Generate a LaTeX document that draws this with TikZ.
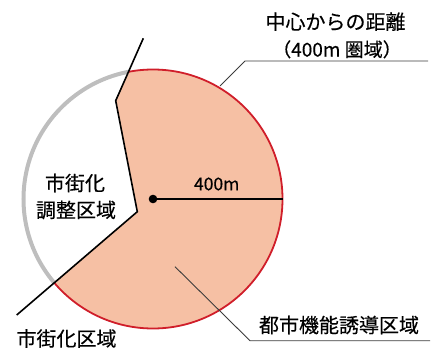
\documentclass[tikz,border=0pt]{standalone}
\usepackage{fontspec}
\setmainfont{Noto Sans CJK JP}[FakeBold=0.4]
\definecolor{salmon}{RGB}{246,192,164}
\definecolor{ringred}{RGB}{208,30,42}
\definecolor{ringgray}{RGB}{190,190,190}
\definecolor{leader}{RGB}{60,60,60}
\tikzset{
  lbl/.style={inner sep=0pt, font=\fontsize{20}{22}\selectfont},
  leaderline/.style={draw=leader, line width=0.9pt},
  border/.style={draw=black, line width=1.6pt, line join=miter},
}
\begin{document}
\begin{tikzpicture}[x=1pt,y=-1pt]
\useasboundingbox (0,0) rectangle (432,356);
\coordinate (c) at (153,199);
\coordinate (b0) at (160.2,0);
\coordinate (b1) at (143.3,38.3);
\coordinate (b2) at (115.7,100.7);
\coordinate (b3) at (137.3,211.7);
\coordinate (b4) at (16.7,315);
% gray arc (left part)
\begin{scope}
  \clip (b0) -- (b1) -- (b2) -- (b3) -- (b4) -- (16.7,356) -- (0,356) -- (0,0) -- cycle;
  \draw[ringgray, line width=4pt] (c) circle[radius=129.5];
\end{scope}
% salmon region with red arc
\begin{scope}
  \clip (b0) -- (b1) -- (b2) -- (b3) -- (b4) -- (16.7,356) -- (432,356) -- (432,0) -- cycle;
  \fill[salmon] (c) circle[radius=129.5];
  \draw[ringred, line width=1.8pt] (c) circle[radius=129.5];
\end{scope}
% boundary line
\draw[border] (b1) -- (b2) -- (b3) -- (b4);
% radius
\coordinate (re) at (282.5,199);
\draw[line width=1.6pt] (c) -- (re);
\fill (c) circle[radius=4.3];
\node[lbl, font=\fontsize{17.5}{19}\selectfont] (r) at (216.7,184) {400m};
% labels
\node[lbl] (t1) at (335.5,21.7) {中心からの距離};
\node[lbl, font=\fontsize{19}{21}\selectfont] (t2) at (337,49.3) {（400m 圏域）};
\node[lbl] (t3) at (75,183) {市街化};
\node[lbl] (t4) at (76,210) {調整区域};
\node[lbl] (t5) at (66.5,338.5) {市街化区域};
\node[lbl] (t6) at (339,325) {都市機能誘導区域};
% leaders
\coordinate (l1a) at (220,86);
\coordinate (l1b) at (245,61);
\coordinate (l1c) at (428,61);
\draw[leaderline] (l1a) -- (l1b) -- (l1c);
\coordinate (l2a) at (175,266.7);
\coordinate (l2b) at (250,340.7);
\coordinate (l2c) at (430,340.7);
\draw[leaderline] (l2a) -- (l2b) -- (l2c);
\end{tikzpicture}
\end{document}
